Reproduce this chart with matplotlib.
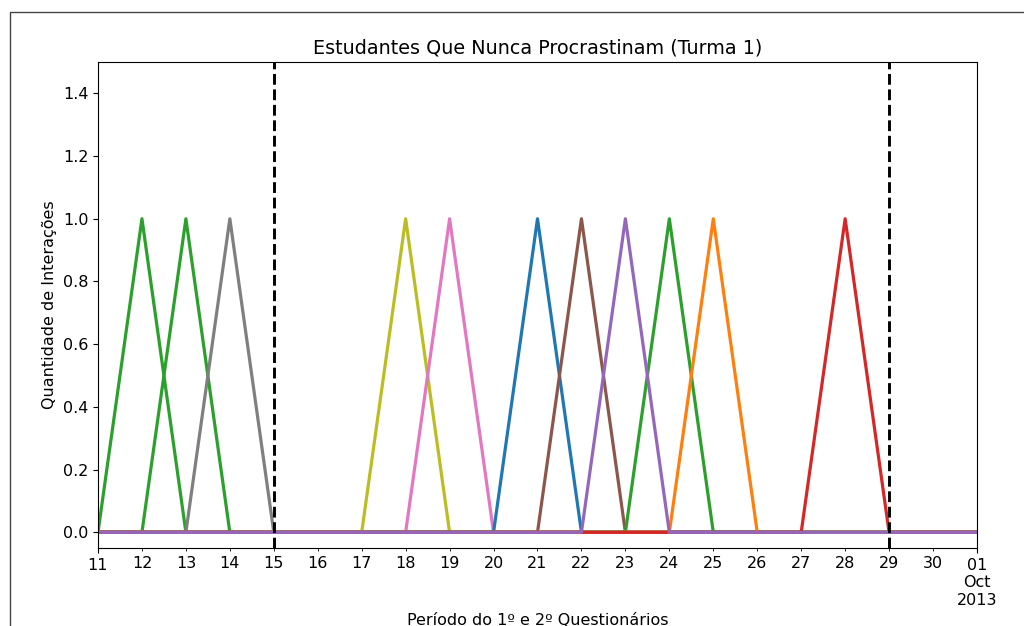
import matplotlib
matplotlib.use('Agg')
import matplotlib.pyplot as plt
import matplotlib.dates as mdates
from matplotlib.patches import Rectangle
import numpy as np
import pandas as pd

# periodo observado (um valor por dia)
dias = pd.date_range('2013-09-11', '2013-10-01', freq='D')

# dia (setembro) da unica interacao de cada estudante, na ordem em que foram plotados
dia_interacao = [12, 13, 14, 18, 19, 21, 22, 24, 25, 28, 23]
cores = ['tab:green', 'tab:green', 'tab:gray', 'tab:olive', 'tab:pink', 'tab:blue',
         'tab:brown', 'tab:green', 'tab:orange', 'tab:red', 'tab:purple']

# datas dos questionarios
questionarios = ['2013-09-15', '2013-09-29']

plt.rcParams['font.size'] = 11.5

fig = plt.figure(figsize=(10.24, 6.26), dpi=100)
ax = fig.add_axes([0.0957, 0.1246, 0.8584, 0.7764])

for dia, cor in zip(dia_interacao, cores):
    contagem = np.zeros(len(dias))
    contagem[dias.day == dia] = 1
    ax.plot(dias, contagem, color=cor, lw=2.3)

for q in questionarios:
    ax.axvline(pd.Timestamp(q), color='black', ls='--', lw=2.1)

ax.set_xlim(dias[0], dias[-1])
ax.set_ylim(-0.05, 1.5)
ax.set_yticks(np.arange(0, 1.41, 0.2))

# estilo de ticks parecido com o do pandas: maiores nas pontas, menores nos dias
maiores = [dias[0], dias[-1]]
menores = list(dias[1:-1])
ax.set_xticks([mdates.date2num(d) for d in maiores])
ax.set_xticklabels(['11', '01\nOct\n2013'])
ax.set_xticks([mdates.date2num(d) for d in menores], minor=True)
ax.set_xticklabels([f'{d.day:02d}' for d in menores], minor=True)
ax.tick_params(axis='x', which='minor', labelsize=11.5)

ax.set_title('Estudantes Que Nunca Procrastinam (Turma 1)', fontsize=13.8)
ax.set_ylabel('Quantidade de Interações')
ax.set_xlabel('Período do 1º e 2º Questionários')

# moldura da figura (a imagem original foi recortada)
fig.patches.append(Rectangle((10 / 1024, -0.2), 1.2, (626 - 12) / 626 + 0.2,
                             transform=fig.transFigure, fill=False,
                             edgecolor='#444444', lw=1))

fig.savefig('out.png', dpi=100)
